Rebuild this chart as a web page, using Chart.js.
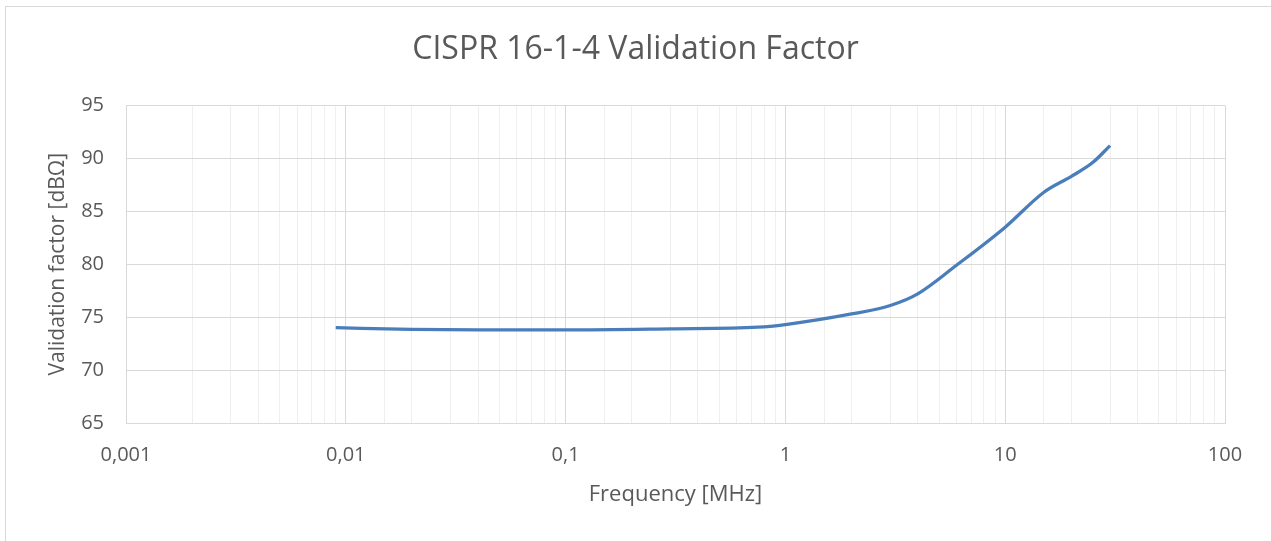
<!DOCTYPE html>
<html>
<head>
<meta charset="utf-8">
<script src="https://cdn.jsdelivr.net/npm/chart.js@4"></script>
<style>
    html, body { margin: 0; padding: 0; background: #fff; }
    #wrap { position: relative; width: 1271px; height: 541px; overflow: hidden; }
    #frame { position: absolute; left: 5px; top: 6px; width: 1400px; height: 700px;
             border-left: 1px solid #d9d9d9; border-top: 1px solid #d9d9d9; pointer-events: none; }
</style>
</head>
<body>
<div id="wrap">
    <canvas id="chartVF" width="1271" height="541"></canvas>
    <div id="frame"></div>
</div>
<script>
// Datos
const freqMHz = [0.009, 0.02, 0.04, 0.1, 0.3, 0.75, 1, 2, 3, 4, 6, 10, 15, 20, 25, 30];
const factorDb = [74.0, 73.85, 73.8, 73.8, 73.9, 74.05, 74.3, 75.3, 76.1, 77.2, 79.9, 83.5, 86.8, 88.3, 89.6, 91.2];
const decadeLabels = ["0,001", "0,01", "0,1", "1", "10", "100"];

const FONT = "'Open Sans', sans-serif";
const GREY_TEXT = "#595959";

const points = freqMHz.map((f, i) => ({ x: f, y: factorDb[i] }));

function isDecade(v) {
    const e = Math.log10(v);
    return Math.abs(e - Math.round(e)) < 1e-9;
}

// El título va centrado sobre todo el lienzo, no sobre el área del gráfico
const centerTitle = {
    id: "centerTitle",
    afterLayout(chart) {
        if (chart.titleBlock) {
            chart.titleBlock.left = 0;
            chart.titleBlock.right = chart.width;
        }
    }
};

const chartVF = new Chart(document.getElementById("chartVF"), {
    type: "line",
    data: {
        datasets: [{
            label: "Validation factor",
            data: points,
            borderColor: "#4a7ebb",
            borderWidth: 3.3,
            pointRadius: 0,
            cubicInterpolationMode: "monotone",
            fill: false
        }]
    },
    options: {
        responsive: false,
        animation: false,
        layout: { padding: { left: 0, right: 46, top: 0, bottom: 0 } },
        plugins: {
            legend: { display: false },
            tooltip: { enabled: false },
            title: {
                display: true,
                text: "CISPR 16-1-4 Validation Factor",
                color: GREY_TEXT,
                font: { family: FONT, size: 32, weight: "normal" },
                padding: { top: 31, bottom: 36 }
            }
        },
        scales: {
            x: {
                type: "logarithmic",
                min: 0.001,
                max: 100,
                afterFit: scale => { scale.height = 118; },
                grid: {
                    drawTicks: false,
                    color: ctx => (ctx.tick && isDecade(ctx.tick.value)) ? "#d9d9d9" : "#efefef",
                    lineWidth: 1
                },
                border: { color: "#d9d9d9", width: 1 },
                ticks: {
                    autoSkip: false,
                    maxRotation: 0,
                    padding: 20,
                    color: GREY_TEXT,
                    font: { family: FONT, size: 20 },
                    callback: value => {
                        if (!isDecade(value)) return "";
                        const idx = Math.round(Math.log10(value)) + 3;
                        return decadeLabels[idx];
                    }
                },
                title: {
                    display: true,
                    text: "Frequency [MHz]",
                    color: GREY_TEXT,
                    font: { family: FONT, size: 22 },
                    padding: { top: 0, bottom: 33 }
                }
            },
            y: {
                min: 65,
                max: 95,
                afterFit: scale => { scale.width = 126; },
                grid: { drawTicks: false, color: "#d9d9d9", lineWidth: 1 },
                border: { color: "#d9d9d9", width: 1 },
                ticks: {
                    stepSize: 5,
                    padding: 22,
                    color: GREY_TEXT,
                    font: { family: FONT, size: 20 }
                },
                title: {
                    display: true,
                    text: "Validation factor [dBΩ]",
                    color: GREY_TEXT,
                    font: { family: FONT, size: 21 },
                    padding: { top: 45, bottom: 0 }
                }
            }
        }
    },
    plugins: [centerTitle]
});
</script>
</body>
</html>
